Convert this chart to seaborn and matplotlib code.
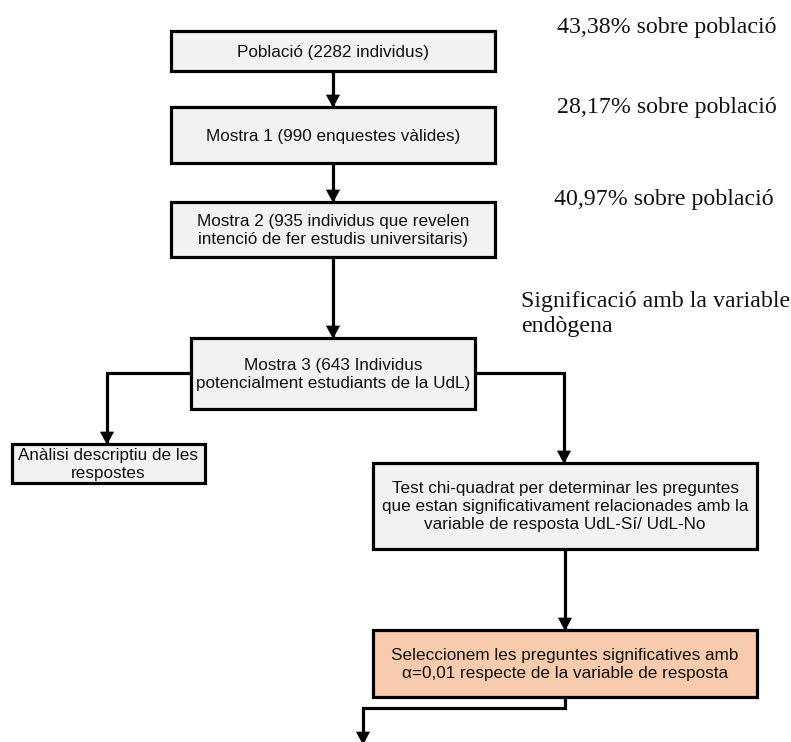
import matplotlib
matplotlib.use("Agg")
import matplotlib.pyplot as plt
import seaborn as sns
from matplotlib.patches import Rectangle, Polygon

sns.set_theme(style="white")
plt.rcParams['font.family'] = ['Liberation Sans', 'DejaVu Sans']

# --- Data: box texts and side notes ---
box_labels = [
    "Població (2282 individus)",
    "Mostra 1 (990 enquestes vàlides)",
    "Mostra 2 (935 individus que revelen\nintenció de fer estudis universitaris)",
    "Mostra 3 (643 Individus\npotencialment estudiants de la UdL)",
    "Anàlisi descriptiu de les\nrespostes",
    "Test chi-quadrat per determinar les preguntes\nque estan significativament relacionades amb la\nvariable de resposta UdL-Sí/ UdL-No",
    "Seleccionem les preguntes significatives amb\nα=0,01 respecte de la variable de resposta",
]
side_notes = [
    "43,38% sobre població",
    "28,17% sobre població",
    "40,97% sobre població",
    "Significació amb la variable\nendògena",
]

# layout (pixels): x0, y0, x1, y1
box_pos = [
    (171, 31, 495, 71),
    (171, 107, 495, 163),
    (171, 202, 495, 257),
    (191, 338, 475, 409),
    (12, 444, 205, 483),
    (373, 463, 757, 549),
    (373, 630, 757, 697),
]
box_fill = ["#f2f2f2"] * 6 + ["#f8cbad"]
note_pos = [(557, 27), (557, 107), (554, 199), (521, 314)]

W, H = 791, 742
fig = plt.figure(figsize=(W / 100, H / 100), dpi=100)
ax = fig.add_axes([0, 0, 1, 1])
ax.set_xlim(0, W)
ax.set_ylim(H, 0)
ax.axis('off')

lw = 2.3

for (x0, y0, x1, y1), label, fc in zip(box_pos, box_labels, box_fill):
    ax.add_patch(Rectangle((x0, y0), x1 - x0, y1 - y0, facecolor=fc,
                           edgecolor='black', linewidth=lw, zorder=2))
    ax.text((x0 + x1) / 2, (y0 + y1) / 2 + 1, label, ha='center', va='center',
            fontsize=12.3, linespacing=1.25, color='#111111', zorder=3)

for (x, y), note in zip(note_pos, side_notes):
    ax.text(x, y, note, ha='left', va='center', fontsize=17.2,
            family=['Liberation Serif', 'DejaVu Serif'], linespacing=1.3,
            color='#111111')


def connector(xs, ys, head=True):
    ax.plot(xs, ys, color='black', linewidth=lw, solid_joinstyle='miter',
            solid_capstyle='butt', zorder=1)
    if head:
        xe, ye = xs[-1], ys[-1]
        ax.add_patch(Polygon([(xe - 6.5, ye - 12), (xe + 6.5, ye - 12), (xe, ye)],
                             closed=True, facecolor='black', edgecolor='black',
                             linewidth=0.5, zorder=4))


connector([333, 333], [71, 107])
connector([333, 333], [163, 202])
connector([333, 333], [257, 338])
connector([191, 107, 107], [373, 373, 444])
connector([475, 564, 564], [373, 373, 463])
connector([565, 565], [549, 630])
connector([565, 565, 363, 363], [697, 708, 708, 744])

fig.savefig('out.png', dpi=100)
